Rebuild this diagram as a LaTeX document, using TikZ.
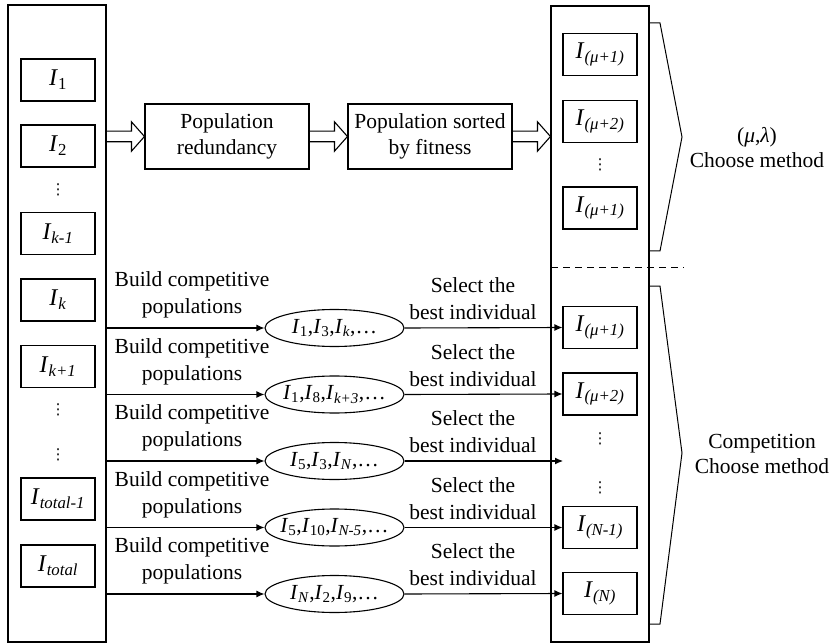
\documentclass[tikz,border=0pt]{standalone}
\usepackage{fontspec}
\setmainfont{Liberation Serif}
\newfontfamily\dejavu{DejaVu Sans}
\usetikzlibrary{arrows.meta,calc,shapes.geometric}
\newcommand\II[1]{\textit{I}\textsubscript{#1}}
\newcommand\vdts{{\dejavu\fontsize{15}{15}\selectfont ⋮}}
\newcommand\harrow[2]{\draw[line width=1.1pt] let \p1=(#1), \p2=(#2) in
  (\x1,\y2+5.3pt) -- (\x2-13pt,\y2+5.3pt) -- (\x2-13pt,\y2+14.7pt) -- (\x2,\y2)
  -- (\x2-13pt,\y2-14.7pt) -- (\x2-13pt,\y2-5.3pt) -- (\x1,\y2-5.3pt);}
\begin{document}
\begin{tikzpicture}[x=1pt,y=-1pt,line width=1.1pt,
  every node/.style={font=\fontsize{21.5}{27}\selectfont},
  bigbox/.style={draw,minimum width=98pt,minimum height=637pt,inner sep=0pt},
  ibox/.style={draw,minimum width=74pt,minimum height=42pt,inner sep=0pt,font=\fontsize{24}{28}\selectfont},
  procbox/.style={draw,minimum width=164pt,minimum height=65pt,inner sep=0pt,align=center,font=\fontsize{21.5}{26}\selectfont},
  popell/.style={draw,ellipse,minimum width=139pt,minimum height=37pt,inner xsep=-16pt,inner ysep=-5pt},
  lbl/.style={align=center,inner sep=0pt},
  rlbl/.style={align=center,inner sep=0pt,font=\fontsize{21.5}{25}\selectfont},
  dts/.style={inner sep=0pt},
  arr/.style={-{Latex[length=8pt,width=7pt]}}]
\useasboundingbox (0,0) rectangle (832,644);
% big columns
\node[bigbox] (L) at (57,323.5) {};
\node[bigbox,minimum height=636pt] (R) at (600,324) {};
% left individuals
\node[ibox] (a1) at (58,80) {\II{1}};
\node[ibox] (a2) at (58,146) {\II{2}};
\node[dts] (d1) at (58,190) {\vdts};
\node[ibox] (a3) at (58,233.5) {\II{\textit{k-1}}};
\node[ibox] (a4) at (58,300) {\II{\textit{k}}};
\node[ibox] (a5) at (58,366.5) {\II{\textit{k+1}}};
\node[dts] (d2) at (58,410) {\vdts};
\node[dts] (d3) at (58,455) {\vdts};
\node[ibox] (a6) at (58,499) {\II{\textit{total-1}}};
\node[ibox] (a7) at (58,566) {\II{\textit{total}}};
% process boxes
\node[procbox] (p1) at (227,136.5) {Population\\redundancy};
\node[procbox] (p2) at (430,136.5) {Population sorted\\by fitness};
% right upper
\node[ibox] (u1) at (600,54.5) {\II{\textit{(μ+1)}}};
\node[ibox] (u2) at (600,121.5) {\II{\textit{(μ+2)}}};
\node[dts] (ud) at (600,165) {\vdts};
\node[ibox] (u3) at (600,208) {\II{\textit{(μ+1)}}};
% right lower
\node[ibox] (b1) at (600,327.5) {\II{\textit{(μ+1)}}};
\node[ibox] (b2) at (600,394) {\II{\textit{(μ+2)}}};
\node[dts] (bd1) at (600,439) {\vdts};
\node[dts] (bd2) at (600,488) {\vdts};
\coordinate (t3) at (563,461);
\node[ibox] (b4) at (600,527.5) {\II{\textit{(N-1)}}};
\node[ibox] (b5) at (600,593.5) {\II{\textit{(N)}}};
% hollow arrows
\harrow{L.east}{p1.west}
\harrow{p1.east}{p2.west}
\harrow{p2.east}{R.west|-p2.east}
% ellipses
\node[popell] (e1) at (334.5,328) {\II{1},\II{3},\II{\textit{k}},\ldots};
\node[popell] (e2) at (334.5,394.5) {\II{1},\II{8},\II{\textit{k+3}},\ldots};
\node[popell] (e3) at (334.5,461) {\II{5},\II{3},\II{\textit{N}},\ldots};
\node[popell] (e4) at (334.5,527.5) {\II{5},\II{10},\II{\textit{N-5}},\ldots};
\node[popell] (e5) at (334.5,594) {\II{\textit{N}},\II{2},\II{9},\ldots};
% texts
\foreach \i/\y in {1/328,2/394.5,3/461,4/527.5,5/594}{
  \node[lbl] (c\i) at (192,\y-33) {Build competitive\\populations};
  \node[lbl] (s\i) at (473,\y-29) {Select the\\best individual};
}
% connectors
\foreach \i in {1,...,5}{
  \draw[arr] (L.east|-e\i.west) -- (e\i.west);
}
\draw[arr] (e1.east) -- (b1.west);
\draw[arr] (e2.east) -- (b2.west);
\draw[arr] (e3.east) -- (t3);
\draw[arr] (e4.east) -- (b4.west);
\draw[arr] (e5.east) -- (b5.west);
% separator
\coordinate (sepA) at (551,268);
\coordinate (sepB) at (684,268);
\draw[dashed,dash pattern=on 7pt off 5pt,line width=1pt] (sepA) -- (sepB);
% braces
\coordinate (br1a) at (649,23);
\coordinate (br1b) at (660,23);
\coordinate (br1c) at (682,137);
\coordinate (br1d) at (660,251);
\coordinate (br1e) at (649,251);
\draw[line width=1pt] (br1a) -- (br1b) -- (br1c) -- (br1d) -- (br1e);
\coordinate (br2a) at (649,286);
\coordinate (br2b) at (660,286);
\coordinate (br2c) at (682,453);
\coordinate (br2d) at (660,624);
\coordinate (br2e) at (649,624);
\draw[line width=1pt] (br2a) -- (br2b) -- (br2c) -- (br2d) -- (br2e);
\node[rlbl] (m1) at (757,147.5) {(\textit{μ},\textit{λ})\\Choose method};
\node[rlbl] (m2) at (762,453.5) {Competition\\Choose method};
\end{tikzpicture}
\end{document}
